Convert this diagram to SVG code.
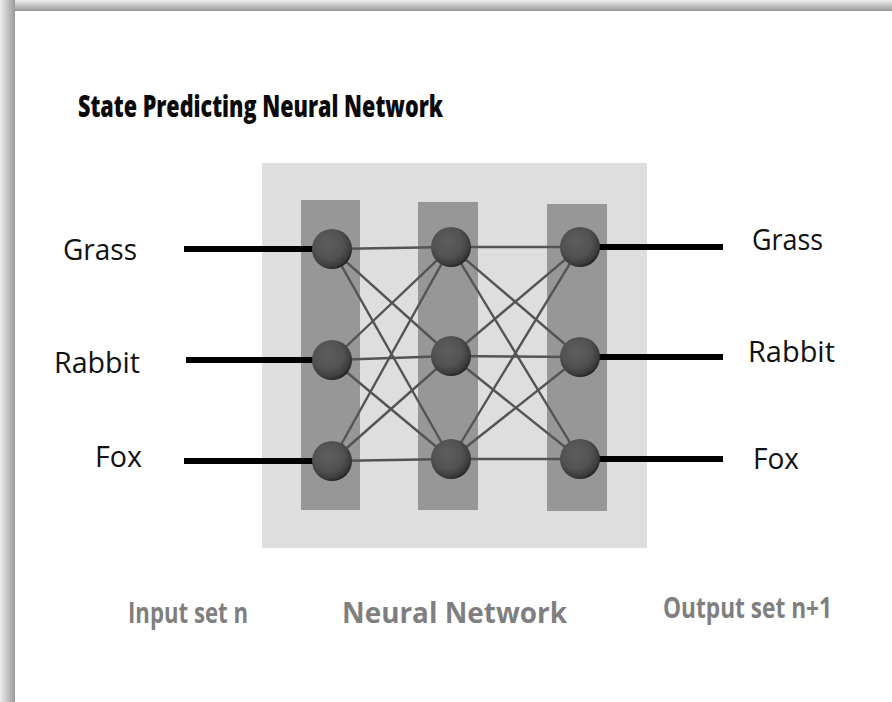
<svg xmlns="http://www.w3.org/2000/svg" width="892" height="702" viewBox="0 0 892 702">
  <defs>
    <linearGradient id="edgeTop" x1="0" y1="0" x2="0" y2="1">
      <stop offset="0" stop-color="#eeeeee"/>
      <stop offset="0.5" stop-color="#c4c4c4"/>
      <stop offset="1" stop-color="#999999"/>
    </linearGradient>
    <linearGradient id="edgeLeft" x1="0" y1="0" x2="1" y2="0">
      <stop offset="0" stop-color="#eeeeee"/>
      <stop offset="0.5" stop-color="#c4c4c4"/>
      <stop offset="1" stop-color="#999999"/>
    </linearGradient>
    <radialGradient id="sphere" cx="0.42" cy="0.4" r="0.62" fx="0.4" fy="0.35">
      <stop offset="0" stop-color="#5e5e5e"/>
      <stop offset="0.6" stop-color="#525252"/>
      <stop offset="0.88" stop-color="#3c3c3c"/>
      <stop offset="1" stop-color="#222222"/>
    </radialGradient>
    <style>
      .panel { fill: #dedede; }
      .layer { fill: #979797; }
      .link { stroke: #545454; stroke-width: 2.4; fill: none; }
      .io { stroke: #000000; stroke-width: 6; fill: none; }
      .node { fill: url(#sphere); }
      .label { font-family: "Open Sans", "Liberation Sans", sans-serif; font-size: 29px; fill: #111111; }
      .title { font-family: "Open Sans", "Liberation Sans", sans-serif; font-weight: 800; font-size: 30px; fill: #0a0a0a; }
      .caption { font-family: "Open Sans", "Liberation Sans", sans-serif; font-weight: 700; font-size: 29px; fill: #7f7f7f; }
    </style>
  </defs>

  <!-- page with shaded frame edges along the top and left -->
  <rect x="0" y="0" width="892" height="702" fill="#ffffff"/>
  <rect x="0" y="0" width="892" height="11" fill="url(#edgeTop)"/>
  <rect x="0" y="0" width="15" height="702" fill="url(#edgeLeft)"/>

  <text class="title" x="78" y="117" textLength="365" lengthAdjust="spacingAndGlyphs">State Predicting Neural Network</text>

  <!-- network backdrop and layer bands -->
  <rect class="panel" x="262" y="163" width="385" height="385"/>
  <rect class="layer" x="301" y="200" width="59" height="310"/>
  <rect class="layer" x="418" y="202" width="60" height="308"/>
  <rect class="layer" x="547" y="204" width="60" height="307"/>

  <g id="connectors">
    <!-- input lines -->
    <line class="io" x1="184" y1="249" x2="332" y2="249"/>
    <line class="io" x1="186" y1="360" x2="332" y2="360"/>
    <line class="io" x1="184" y1="461" x2="332" y2="461"/>
    <!-- output lines -->
    <line class="io" x1="580" y1="247" x2="723" y2="247"/>
    <line class="io" x1="580" y1="357" x2="723" y2="357"/>
    <line class="io" x1="580" y1="459" x2="723" y2="459"/>
    <!-- layer 1 to layer 2 -->
    <line class="link" x1="332" y1="249" x2="451" y2="247"/>
    <line class="link" x1="332" y1="249" x2="451" y2="356"/>
    <line class="link" x1="332" y1="249" x2="451" y2="459"/>
    <line class="link" x1="332" y1="360" x2="451" y2="247"/>
    <line class="link" x1="332" y1="360" x2="451" y2="356"/>
    <line class="link" x1="332" y1="360" x2="451" y2="459"/>
    <line class="link" x1="332" y1="461" x2="451" y2="247"/>
    <line class="link" x1="332" y1="461" x2="451" y2="356"/>
    <line class="link" x1="332" y1="461" x2="451" y2="459"/>
    <!-- layer 2 to layer 3 -->
    <line class="link" x1="451" y1="247" x2="580" y2="247"/>
    <line class="link" x1="451" y1="247" x2="580" y2="357"/>
    <line class="link" x1="451" y1="247" x2="580" y2="459"/>
    <line class="link" x1="451" y1="356" x2="580" y2="247"/>
    <line class="link" x1="451" y1="356" x2="580" y2="357"/>
    <line class="link" x1="451" y1="356" x2="580" y2="459"/>
    <line class="link" x1="451" y1="459" x2="580" y2="247"/>
    <line class="link" x1="451" y1="459" x2="580" y2="357"/>
    <line class="link" x1="451" y1="459" x2="580" y2="459"/>
  </g>

  <!-- input layer -->
  <g id="in-grass"><circle class="node" cx="332" cy="249" r="20"/></g>
  <g id="in-rabbit"><circle class="node" cx="332" cy="360" r="20"/></g>
  <g id="in-fox"><circle class="node" cx="332" cy="461" r="20"/></g>
  <!-- hidden layer -->
  <g id="hidden-1"><circle class="node" cx="451" cy="247" r="20"/></g>
  <g id="hidden-2"><circle class="node" cx="451" cy="356" r="20"/></g>
  <g id="hidden-3"><circle class="node" cx="451" cy="459" r="20"/></g>
  <!-- output layer -->
  <g id="out-grass"><circle class="node" cx="580" cy="247" r="20"/></g>
  <g id="out-rabbit"><circle class="node" cx="580" cy="357" r="20"/></g>
  <g id="out-fox"><circle class="node" cx="580" cy="459" r="20"/></g>

  <!-- input labels -->
  <text class="label" x="63" y="260" textLength="74" lengthAdjust="spacingAndGlyphs">Grass</text>
  <text class="label" x="54" y="373" textLength="86" lengthAdjust="spacingAndGlyphs">Rabbit</text>
  <text class="label" x="95" y="467" textLength="47" lengthAdjust="spacingAndGlyphs">Fox</text>
  <!-- output labels -->
  <text class="label" x="752" y="250" textLength="71" lengthAdjust="spacingAndGlyphs">Grass</text>
  <text class="label" x="748" y="362" textLength="87" lengthAdjust="spacingAndGlyphs">Rabbit</text>
  <text class="label" x="753" y="469" textLength="46" lengthAdjust="spacingAndGlyphs">Fox</text>

  <!-- captions -->
  <text class="caption" x="128" y="623" textLength="120" lengthAdjust="spacingAndGlyphs">Input set n</text>
  <text class="caption" x="342" y="623" font-size="28" textLength="225" lengthAdjust="spacingAndGlyphs">Neural Network</text>
  <text class="caption" x="663" y="618" textLength="169" lengthAdjust="spacingAndGlyphs">Output set n+1</text>
</svg>
